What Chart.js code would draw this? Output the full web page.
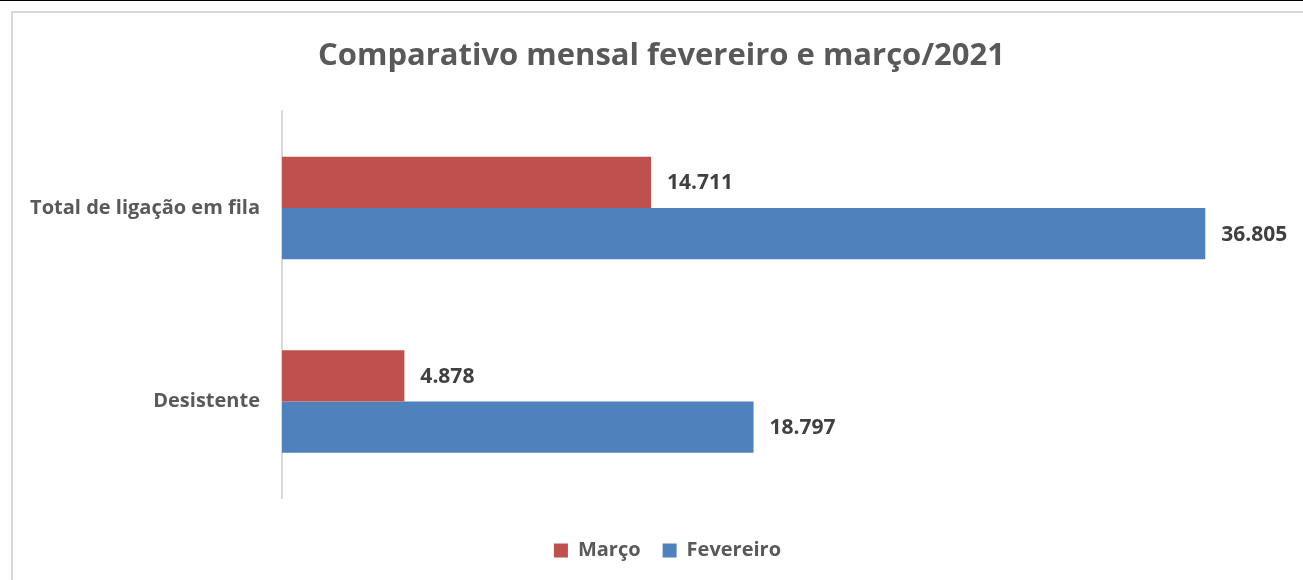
<!DOCTYPE html>
<html><head><meta charset="utf-8">
<script src="https://cdn.jsdelivr.net/npm/chart.js@4"></script>
<style>html,body{margin:0;padding:0;background:#fff;overflow:hidden;}</style>
</head><body>
<canvas id="c" width="1303" height="580"></canvas>
<script>
const categories = ['Total de ligação em fila', 'Desistente'];
const seriesNames = ['Março', 'Fevereiro'];
const marcoValues = [14711, 4878];
const fevereiroValues = [36805, 18797];
const titleText = 'Comparativo mensal fevereiro e março/2021';

const FONT = "'Open Sans', 'Liberation Sans', sans-serif";

function fmt(v) {
  return String(v).replace(/\B(?=(\d{3})+(?!\d))/g, '.');
}

const framePlugin = {
  id: 'frame',
  afterLayout(chart) {
    // nudge legend slightly right so it is centred on the framed chart
    if (chart.legend) { chart.legend.left += 12; }
  },
  beforeDraw(chart) {
    const ctx = chart.ctx;
    ctx.save();
    ctx.fillStyle = '#fff';
    ctx.fillRect(0, 0, chart.width, chart.height);
    ctx.fillStyle = '#000';
    ctx.fillRect(0, 0, chart.width, 1);
    ctx.strokeStyle = '#d9d9d9';
    ctx.lineWidth = 2;
    ctx.strokeRect(12, 12, chart.width + 20, chart.height + 20);
    ctx.restore();
  }
};

const labelPlugin = {
  id: 'valueLabels',
  afterDatasetsDraw(chart) {
    const ctx = chart.ctx;
    ctx.save();
    ctx.font = "bold 21px " + FONT;
    ctx.fillStyle = '#404040';
    ctx.textAlign = 'left';
    ctx.textBaseline = 'middle';
    chart.data.datasets.forEach((ds, i) => {
      const meta = chart.getDatasetMeta(i);
      meta.data.forEach((el, j) => {
        ctx.fillText(fmt(ds.data[j]), el.x + 16, el.y + 1);
      });
    });
    ctx.restore();
  }
};

new Chart(document.getElementById('c'), {
  type: 'bar',
  data: {
    labels: categories,
    datasets: [
      { label: seriesNames[0], data: marcoValues, backgroundColor: '#C0504D', borderWidth: 0 },
      { label: seriesNames[1], data: fevereiroValues, backgroundColor: '#4F81BD', borderWidth: 0 }
    ]
  },
  options: {
    indexAxis: 'y',
    responsive: false,
    animation: false,
    events: [],
    layout: { padding: { left: 20, right: 0, top: 21, bottom: 9.5 } },
    datasets: { bar: { categoryPercentage: 0.53, barPercentage: 1 } },
    scales: {
      x: { display: false, min: 0, max: 40700 },
      y: {
        afterFit(scale) { scale.width = 262; },
        grid: { display: false, drawTicks: false },
        border: { display: true, color: '#d9d9d9', width: 2 },
        ticks: { color: '#595959', font: { family: FONT, size: 20, weight: 'bold' }, padding: 22 }
      }
    },
    plugins: {
      title: {
        display: true,
        text: titleText,
        color: '#595959',
        font: { family: FONT, size: 31, weight: 'bold' },
        padding: { top: 17, bottom: 36 }
      },
      legend: {
        position: 'bottom',
        title: { display: true, text: '', font: { size: 1 }, padding: { top: 19, bottom: 0 } },
        labels: {
          color: '#595959',
          font: { family: FONT, size: 20, weight: 'bold' },
          boxWidth: 14, boxHeight: 14, padding: 22
        }
      },
      tooltip: { enabled: false }
    }
  },
  plugins: [framePlugin, labelPlugin]
});
</script>
</body></html>
